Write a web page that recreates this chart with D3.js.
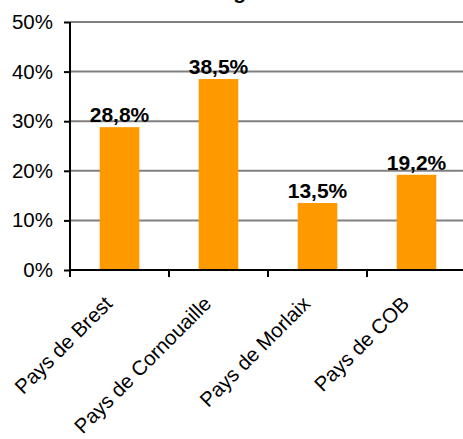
<!DOCTYPE html>
<html><head><meta charset="utf-8">
<script src="https://cdn.jsdelivr.net/npm/d3@7"></script>
<style>body{margin:0;background:#fff}svg{display:block}text{font-family:"Liberation Sans",Arial,sans-serif}</style>
</head><body>
<svg id="c" width="463" height="439"></svg>
<script>
const categories = ["Pays de Brest","Pays de Cornouaille","Pays de Morlaix","Pays de COB"];
const values = [28.8, 38.5, 13.5, 19.2];
const valueLabels = ["28,8%","38,5%","13,5%","19,2%"];
const yTicks = [0,10,20,30,40,50];
const title = "Origine";

const svg = d3.select("#c");
const x0 = 70, x1 = 466, yTop = 22, yBot = 270;
const x = d3.scaleBand().domain(categories).range([x0, x1]).paddingInner(0.6).paddingOuter(0.3);
const y = d3.scaleLinear().domain([0,50]).range([yBot, yTop]);

// title (mostly cut off at the top edge)
svg.append("text").attr("x", 203).attr("y", -1).attr("font-size", 21).attr("font-weight", "bold").text(title);

// gridlines
svg.append("g").selectAll("line").data(yTicks.filter(d => d > 0)).join("line")
  .attr("x1", x0).attr("x2", x1).attr("y1", d => y(d)).attr("y2", d => y(d))
  .attr("stroke", "#808080").attr("stroke-width", 2);

// bars
svg.append("g").selectAll("rect").data(values).join("rect")
  .attr("x", (d,i) => x(categories[i])).attr("width", x.bandwidth())
  .attr("y", d => y(d)).attr("height", d => yBot - y(d))
  .attr("fill", "#FF9900");

// value labels
svg.append("g").selectAll("text").data(values).join("text")
  .attr("x", (d,i) => x(categories[i]) + x.bandwidth()/2)
  .attr("y", d => y(d) - 5)
  .attr("text-anchor", "middle").attr("font-size", 21).attr("font-weight", "bold")
  .text((d,i) => valueLabels[i]);

// y axis
const yAxis = d3.axisLeft(y).tickValues(yTicks).tickFormat(d => d + "%").tickSize(6).tickPadding(11);
const gy = svg.append("g").attr("transform", `translate(${x0},0)`).call(yAxis);
gy.select(".domain").attr("stroke", "#000").attr("stroke-width", 2).attr("d", `M0,${yTop}V${yBot}`);
gy.selectAll(".tick line").attr("stroke", "#000").attr("stroke-width", 2);
gy.selectAll(".tick text").attr("font-size", 20.5).attr("fill", "#000").attr("font-family", '"Liberation Sans",Arial,sans-serif');

// x axis
svg.append("line").attr("x1", x0).attr("x2", x1).attr("y1", yBot).attr("y2", yBot).attr("stroke", "#000").attr("stroke-width", 2);
svg.append("g").selectAll("line").data(categories).join("line")
  .attr("x1", c => x(c) - x.step()*0.3).attr("x2", c => x(c) - x.step()*0.3)
  .attr("y1", yBot).attr("y2", yBot + 7).attr("stroke", "#000").attr("stroke-width", 2);

svg.append("g").selectAll("text").data(categories).join("text")
  .attr("transform", c => `translate(${x(c) + x.bandwidth()/2 - 6},305) rotate(-45)`)
  .attr("text-anchor", "end").attr("font-size", 20.5).text(c => c);
</script>
</body></html>
